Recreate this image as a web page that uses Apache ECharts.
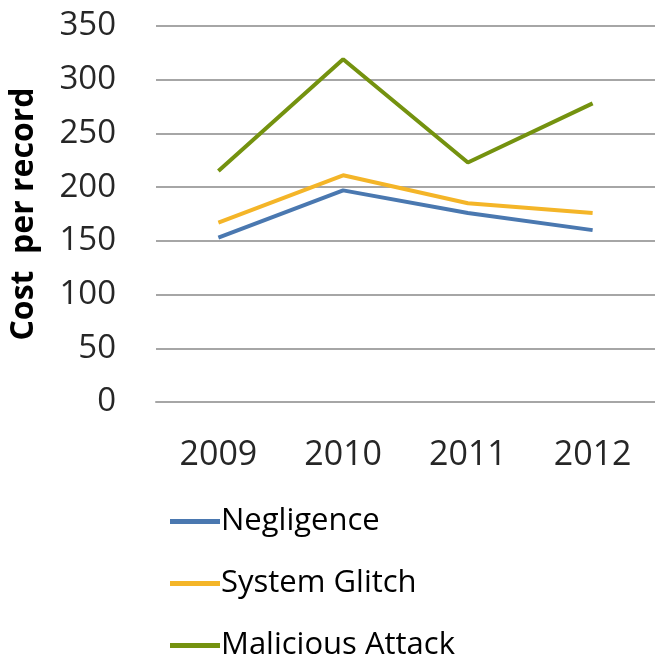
<!DOCTYPE html>
<html>
<head>
<meta charset="utf-8">
<script src="https://cdn.jsdelivr.net/npm/echarts@6/dist/echarts.min.js"></script>
<style>html,body{margin:0;padding:0;background:#fff;}#c{width:655px;height:662px;}</style>
</head>
<body>
<div id="c"></div>
<script>
const categories = ['2009', '2010', '2011', '2012'];
const negligence = [153, 197, 176, 160];
const systemGlitch = [167, 211, 185, 176];
const maliciousAttack = [215, 319, 223, 278];
const yTicks = [0, 50, 100, 150, 200, 250, 300, 350];

const chart = echarts.init(document.getElementById('c'));
const font = '"Open Sans", "DejaVu Sans", sans-serif';
chart.setOption({
  animation: false,
  grid: { left: 155, right: 0, top: 26, bottom: 260, containLabel: false },
  xAxis: {
    type: 'category',
    data: categories,
    boundaryGap: true,
    axisLine: { show: true, lineStyle: { color: '#a6a6a6', width: 2 } },
    axisTick: { show: false },
    axisLabel: { color: '#262626', fontSize: 34, fontFamily: font, margin: 36 }
  },
  yAxis: {
    type: 'value',
    min: yTicks[0],
    max: yTicks[yTicks.length - 1],
    interval: 50,
    name: 'Cost  per record',
    nameLocation: 'middle',
    nameGap: 116,
    nameTextStyle: { color: '#000', fontSize: 32, fontWeight: 'bold', fontFamily: font },
    axisLine: { show: false },
    axisTick: { show: false },
    axisLabel: { color: '#262626', fontSize: 33, fontFamily: font, margin: 40 },
    splitLine: { lineStyle: { color: '#a6a6a6', width: 2 } }
  },
  legend: {
    orient: 'vertical',
    left: 170,
    top: 506,
    height: 156,
    padding: 0,
    itemGap: 31,
    itemWidth: 50,
    itemHeight: 5,
    icon: 'rect',
    textStyle: { color: '#000', fontSize: 31, fontFamily: font, padding: [0, 0, 0, -4], lineHeight: 30 },
    data: ['Negligence', 'System Glitch', 'Malicious Attack']
  },
  series: [
    { name: 'Negligence', type: 'line', data: negligence, symbol: 'none', lineStyle: { width: 4, color: '#4a78b0' }, itemStyle: { color: '#4a78b0' } },
    { name: 'System Glitch', type: 'line', data: systemGlitch, symbol: 'none', lineStyle: { width: 4, color: '#f4b528' }, itemStyle: { color: '#f4b528' } },
    { name: 'Malicious Attack', type: 'line', data: maliciousAttack, symbol: 'none', lineStyle: { width: 4, color: '#74920f' }, itemStyle: { color: '#74920f' } }
  ]
});
</script>
</body>
</html>
